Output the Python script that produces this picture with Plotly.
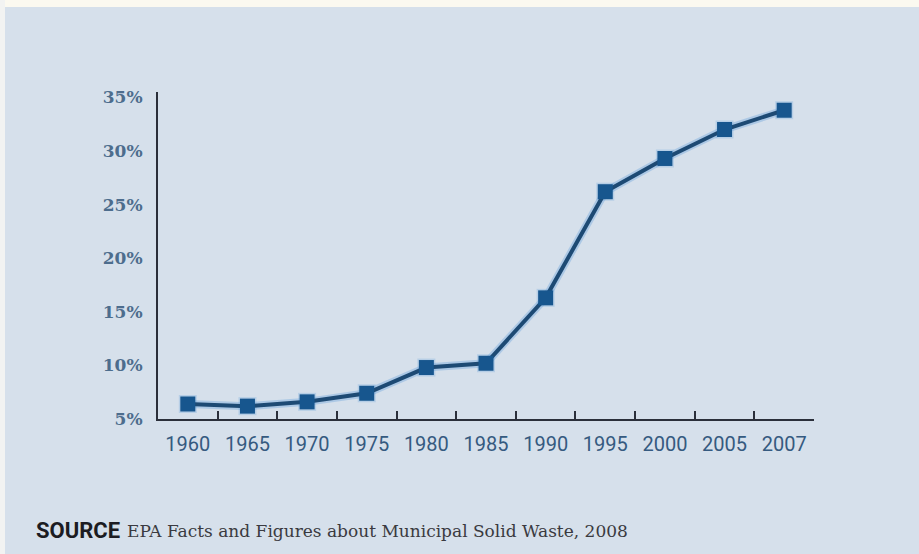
import plotly.graph_objects as go

# Share of municipal solid waste recycled, by year
years = ["1960", "1965", "1970", "1975", "1980", "1985", "1990", "1995", "2000", "2005", "2007"]
rates = [6.4, 6.2, 6.6, 7.4, 9.8, 10.2, 16.3, 26.2, 29.3, 32.0, 33.8]
y_ticks = [5, 10, 15, 20, 25, 30, 35]
y_labels = ["5%", "10%", "15%", "20%", "25%", "30%", "35%"]

W, H = 919, 554
L, R, T, B = 158, 105, 92, 135
pw, ph = W - L - R, H - T - B

BG = "#d6e0eb"
AXIS = "#2b2f3a"
LINE = "#1d4a74"
MARK = "#17568e"


def px_x(p):
    return (p - L) / pw


def px_y(p):
    return (H - B - p) / ph


fig = go.Figure()

# soft halo under the line
fig.add_trace(go.Scatter(
    x=years, y=rates, mode="lines+markers",
    line=dict(color="rgba(110,165,220,0.40)", width=8),
    marker=dict(symbol="square", size=18, color="rgba(110,165,220,0.30)"),
    hoverinfo="skip", showlegend=False,
))
fig.add_trace(go.Scatter(
    x=years, y=rates, mode="lines+markers",
    line=dict(color=LINE, width=4),
    marker=dict(symbol="square", size=15, color=MARK),
    showlegend=False,
))

fig.update_xaxes(
    type="category",
    range=[-0.5, len(years) - 0.5],
    tickson="boundaries",
    ticks="inside", ticklen=8, tickwidth=2, tickcolor=AXIS,
    showline=True, linecolor=AXIS, linewidth=2,
    showgrid=False, zeroline=False,
    tickangle=0,
    tickfont=dict(family="Roboto", size=20, color="#355a80"),
    ticklabelstandoff=6,
)
fig.update_yaxes(
    range=[5, 35.5],
    tickvals=y_ticks, ticktext=y_labels,
    ticks="", showline=True, linecolor=AXIS, linewidth=2,
    showgrid=False, zeroline=False,
    tickfont=dict(family="DejaVu Serif", size=17, color="#4d6d8d", weight="bold"),
    ticklabelstandoff=10,
)

shapes = [
    # pale strip along the top edge
    dict(type="rect", xref="paper", yref="paper", layer="below",
         x0=px_x(0), x1=px_x(W), y0=px_y(7), y1=px_y(0),
         fillcolor="#fbf9f0", line=dict(width=0)),
    # thin pale strip along the left edge
    dict(type="rect", xref="paper", yref="paper", layer="below",
         x0=px_x(0), x1=px_x(5), y0=px_y(H), y1=px_y(0),
         fillcolor="#f2f3f2", line=dict(width=0)),
]

annotations = [
    dict(text="<b>SOURCE</b>", xref="paper", yref="paper",
         x=px_x(34), y=px_y(530), xanchor="left", yanchor="middle",
         showarrow=False,
         font=dict(family="Roboto", size=22, color="#1c1c22")),
    dict(text="EPA Facts and Figures about Municipal Solid Waste, 2008", xref="paper", yref="paper",
         x=px_x(125), y=px_y(531), xanchor="left", yanchor="middle",
         showarrow=False,
         font=dict(family="DejaVu Serif", size=17, color="#3a3a40")),
]

fig.update_layout(
    width=W, height=H,
    margin=dict(l=L, r=R, t=T, b=B, pad=0),
    paper_bgcolor=BG, plot_bgcolor=BG,
    shapes=shapes, annotations=annotations,
)

fig.write_html("out.html", config={"displayModeBar": False})
